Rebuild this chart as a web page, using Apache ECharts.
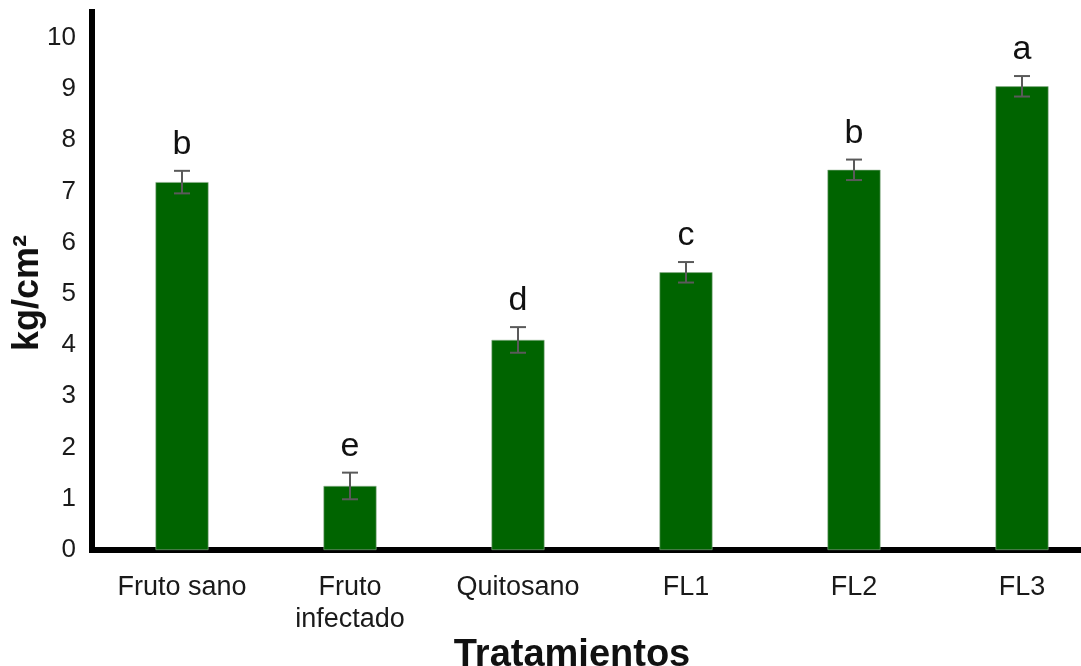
<!DOCTYPE html>
<html>
<head>
<meta charset="utf-8">
<title>Tratamientos</title>
<script src="https://cdn.jsdelivr.net/npm/echarts@6/dist/echarts.min.js"></script>
<style>
	html, body {
		margin: 0;
		padding: 0;
		background: #fff;
	}
	#chart {
		width: 1081px;
		height: 666px;
	}
</style>
</head>
<body>
<div id="chart"></div>
<script>
	// datos
	const categorias = ['Fruto sano', 'Fruto\ninfectado', 'Quitosano', 'FL1', 'FL2', 'FL3'];
	const medias = [7.18, 1.25, 4.1, 5.42, 7.42, 9.05];
	const errores = [0.22, 0.26, 0.25, 0.2, 0.2, 0.2];
	const letras = ['b', 'e', 'd', 'c', 'b', 'a'];
	const yMin = 0;
	const yMax = 10.5;
	const yPaso = 1;

	const fuente = "'Liberation Sans', Arial, sans-serif";

	let dom = echarts.init(document.getElementById('chart'), null, {renderer: 'canvas'});

	let option = {
		animation: false,
		grid: {
			top: 12,
			left: 98,
			width: 1008,
			bottom: 116,
			outerBoundsMode: 'none'
		},
		xAxis: {
			type: 'category',
			data: categorias,
			name: 'Tratamientos',
			nameLocation: 'middle',
			nameGap: 87,
			nameMoveOverlap: false,
			nameTextStyle: {
				fontFamily: fuente,
				fontSize: 38,
				fontWeight: 'bold',
				color: '#111',
				padding: [0, 60, 0, 0]
			},
			axisLine: {
				lineStyle: {
					color: '#000',
					width: 6,
					cap: 'square'
				}
			},
			axisTick: {
				show: false
			},
			axisLabel: {
				margin: 22,
				fontFamily: fuente,
				fontSize: 27,
				lineHeight: 32,
				color: '#1a1a1a'
			}
		},
		yAxis: {
			type: 'value',
			min: yMin,
			max: yMax,
			interval: yPaso,
			offset: 6,
			name: 'kg/cm²',
			nameLocation: 'middle',
			nameGap: 46,
			nameMoveOverlap: false,
			nameRotate: 90,
			nameTextStyle: {
				fontFamily: fuente,
				fontSize: 36,
				fontWeight: 'bold',
				color: '#111',
				padding: [0, 24, 0, 0]
			},
			axisLine: {
				show: true,
				lineStyle: {
					color: '#000',
					width: 6,
					cap: 'square'
				}
			},
			axisTick: {
				show: false
			},
			splitLine: {
				show: false
			},
			axisLabel: {
				margin: 16,
				fontFamily: fuente,
				fontSize: 26,
				color: '#1a1a1a',
				formatter: v => Number.isInteger(v) ? String(v) : ''
			}
		},
		series: [{
			name: 'media',
			type: 'bar',
			data: medias,
			barWidth: 53,
			itemStyle: {
				color: '#006400',
				borderColor: '#8fb08f',
				borderWidth: 0.6
			}
		}, {
			name: 'error',
			type: 'custom',
			data: medias.map((m, i) => [i, m - errores[i], m + errores[i]]),
			z: 5,
			renderItem: (params, api) => {
				const i = api.value(0);
				const alto = api.coord([i, api.value(2)]);
				const bajo = api.coord([i, api.value(1)]);
				const w = 8;
				const estilo = {
					stroke: '#5a5a5a',
					lineWidth: 2
				};
				return {
					type: 'group',
					children: [{
						type: 'line',
						shape: {x1: alto[0], y1: alto[1], x2: bajo[0], y2: bajo[1]},
						style: estilo
					}, {
						type: 'line',
						shape: {x1: alto[0] - w, y1: alto[1], x2: alto[0] + w, y2: alto[1]},
						style: estilo
					}, {
						type: 'line',
						shape: {x1: bajo[0] - w, y1: bajo[1], x2: bajo[0] + w, y2: bajo[1]},
						style: estilo
					}, {
						type: 'text',
						x: alto[0],
						y: alto[1] - 9,
						style: {
							text: letras[params.dataIndex],
							fontFamily: fuente,
							fontSize: 34,
							fill: '#111',
							align: 'center',
							verticalAlign: 'bottom'
						}
					}]
				};
			}
		}]
	};

	dom.setOption(option);
</script>
</body>
</html>
